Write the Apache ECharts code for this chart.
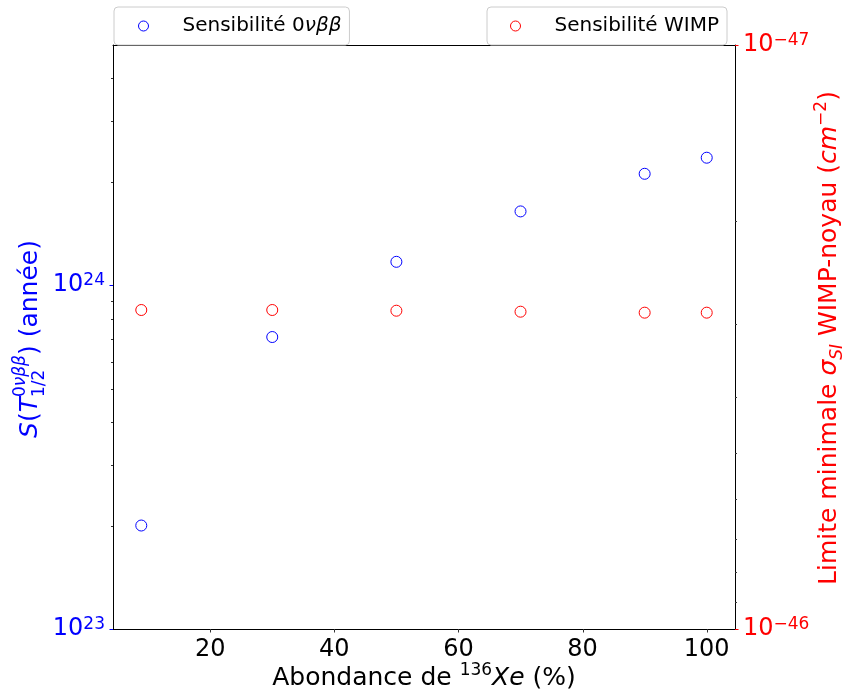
<!DOCTYPE html>
<html>
<head>
<meta charset="utf-8">
<script src="https://cdn.jsdelivr.net/npm/echarts@6/dist/echarts.min.js"></script>
<style>
  html, body { margin: 0; padding: 0; background: #fff; }
  #chart { width: 844px; height: 693px; }
</style>
</head>
<body>
<div id="chart"></div>
<script>
// abondance en 136Xe (%)
var abondance = [8.9, 30, 50, 70, 90, 100];
// sensibilité 0vbb (années)
var sensiBB = [2.0e23, 7.07e23, 1.17e24, 1.64e24, 2.11e24, 2.35e24];
// limite WIMP-noyau (cm-2)
var sensiWIMP = [2.843e-47, 2.843e-47, 2.851e-47, 2.862e-47, 2.873e-47, 2.873e-47];

var xTicks = [20, 40, 60, 80, 100];
var leftMajor = [1e23, 1e24];
var leftMinor = [2e23, 3e23, 4e23, 5e23, 6e23, 7e23, 8e23, 9e23, 2e24, 3e24, 4e24];
var rightMajor = [1e-47, 1e-46];
var rightMinor = [2e-47, 3e-47, 4e-47, 5e-47, 6e-47, 7e-47, 8e-47, 9e-47];

// l'échelle log d'ECharts arrondit les très petites valeurs : axe droit en unités de 1e-47
var WIMP_UNIT = 1e-47, WIMP_EXP = -47;

var FONT = '"DejaVu Sans"';
var BLUE = '#0000ff', RED = '#ff0000';
var HOLLOW = 'rgba(255,255,255,0)';

var chart = echarts.init(document.getElementById('chart'));

function expLabel(shift) {
  return function (v) {
    var l = Math.log10(v);
    var e = Math.round(l);
    if (Math.abs(l - e) > 1e-6) return '';
    e += shift;
    return '{b|10}{s|' + (e < 0 ? '\u2212' + (-e) : e) + '}';
  };
}

function expRich(color) {
  return {
    b: { fontFamily: FONT, fontSize: 24, color: color, lineHeight: 26 },
    s: { fontFamily: FONT, fontSize: 17, color: color, lineHeight: 17, verticalAlign: 'top' }
  };
}

chart.setOption({
  animation: false,
  grid: { left: 113, right: 109, top: 45, bottom: 64 },
  legend: [{
    data: ['Sensibilité 0νββ'],
    left: 114, top: 7,
    itemWidth: 10, itemHeight: 10,
    itemStyle: { borderWidth: 1 },
    padding: [9, 8, 9, 24],
    backgroundColor: '#fff', borderColor: '#cccccc', borderWidth: 1, borderRadius: 4,
    formatter: function () { return '{n|Sensibilité }{n|0}{i|νββ}'; },
    textStyle: {
      padding: [0, 0, 0, 29],
      rich: {
        n: { fontFamily: FONT, fontSize: 20, color: '#000' },
        i: { fontFamily: FONT, fontSize: 20, color: '#000', fontStyle: 'italic' }
      }
    }
  }, {
    data: ['Sensibilité WIMP'],
    left: 487, top: 7,
    itemWidth: 10, itemHeight: 10,
    itemStyle: { borderWidth: 1 },
    padding: [9, 8, 9, 23],
    backgroundColor: '#fff', borderColor: '#cccccc', borderWidth: 1, borderRadius: 4,
    textStyle: { fontFamily: FONT, fontSize: 20, color: '#000', padding: [0, 0, 0, 29] }
  }],
  xAxis: [{
    type: 'value', min: 4.345, max: 104.555,
    axisLine: { show: true, onZero: false, lineStyle: { color: '#000', width: 1 } },
    axisTick: { show: false },
    splitLine: { show: false },
    axisLabel: {
      margin: 9, color: '#000', fontFamily: FONT, fontSize: 24,
      formatter: function (v) { return xTicks.indexOf(v) >= 0 ? String(v) : ''; }
    }
  }, {
    type: 'value', position: 'top', min: 4.345, max: 104.555,
    axisLine: { show: true, onZero: false, lineStyle: { color: '#000', width: 1 } },
    axisTick: { show: false }, axisLabel: { show: false }, splitLine: { show: false }
  }],
  yAxis: [{
    type: 'log', logBase: 10, min: 1e23, max: 5e24, position: 'left',
    axisLine: { show: true, onZero: false, lineStyle: { color: '#000', width: 1 } },
    axisTick: { show: false },
    splitLine: { show: false },
    axisLabel: { margin: 8, formatter: expLabel(0), rich: expRich(BLUE) }
  }, {
    type: 'log', logBase: 10, min: 1, max: 10, inverse: true, position: 'right',
    axisLine: { show: true, onZero: false, lineStyle: { color: '#000', width: 1 } },
    axisTick: { show: false },
    splitLine: { show: false },
    axisLabel: { margin: 8, formatter: expLabel(WIMP_EXP), rich: expRich(RED) }
  }],
  series: [{
    name: 'Sensibilité 0νββ',
    type: 'scatter', xAxisIndex: 0, yAxisIndex: 0,
    symbol: 'circle', symbolSize: 11,
    itemStyle: { color: HOLLOW, borderColor: BLUE, borderWidth: 1, opacity: 1 },
    data: abondance.map(function (x, i) { return [x, sensiBB[i]]; })
  }, {
    name: 'Sensibilité WIMP',
    type: 'scatter', xAxisIndex: 0, yAxisIndex: 1,
    symbol: 'circle', symbolSize: 11,
    itemStyle: { color: HOLLOW, borderColor: RED, borderWidth: 1, opacity: 1 },
    data: abondance.map(function (x, i) { return [x, sensiWIMP[i] / WIMP_UNIT]; })
  }]
});

// petits traits de graduation (majeurs et mineurs), placés via les échelles
var ctx = document.createElement('canvas').getContext('2d');
var gfx = [];
function tick(x1, y1, x2, y2, color) {
  gfx.push({ type: 'line', silent: true, z: 10,
    shape: { x1: x1, y1: y1, x2: x2, y2: y2 },
    style: { stroke: color, lineWidth: 1 } });
}
var bottomPx = Math.round(chart.convertToPixel({ yAxisIndex: 0 }, 1e23));
var leftPx = Math.round(chart.convertToPixel({ xAxisIndex: 0 }, 4.345));
var rightPx = Math.round(chart.convertToPixel({ xAxisIndex: 0 }, 104.555));
xTicks.forEach(function (v) {
  var p = Math.round(chart.convertToPixel({ xAxisIndex: 0 }, v)) + 0.5;
  tick(p, bottomPx, p, bottomPx + 3.5, '#333');
});
leftMajor.forEach(function (v) {
  var p = Math.round(chart.convertToPixel({ yAxisIndex: 0 }, v)) + 0.5;
  tick(leftPx - 3.5, p, leftPx, p, BLUE);
});
leftMinor.forEach(function (v) {
  var p = Math.round(chart.convertToPixel({ yAxisIndex: 0 }, v)) + 0.5;
  tick(leftPx - 2, p, leftPx, p, '#333');
});
rightMajor.forEach(function (v) {
  var p = Math.round(chart.convertToPixel({ yAxisIndex: 1 }, v / WIMP_UNIT)) + 0.5;
  tick(rightPx, p, rightPx + 3.5, p, RED);
});
rightMinor.forEach(function (v) {
  var p = Math.round(chart.convertToPixel({ yAxisIndex: 1 }, v / WIMP_UNIT)) + 0.5;
  tick(rightPx, p, rightPx + 2, p, '#333');
});

// titres d'axes avec exposants / indices
function title(pieces, color, cx, cy, rot) {
  var x = 0, mark = 0, hi = 0, kids = [];
  pieces.forEach(function (p) {
    if (p.mark) { mark = x; return; }
    if (p.back) { hi = x; x = mark; return; }
    if (p.join) { x = Math.max(x, hi); return; }
    var sz = p.sz || 25;
    var font = (p.it ? 'italic ' : '') + sz + 'px ' + FONT;
    ctx.font = font;
    kids.push({ type: 'text', x: x, y: (p.dy || 0) - 0.33 * sz,
      style: { text: p.t, font: font, fill: color, align: 'left', verticalAlign: 'middle' } });
    x += ctx.measureText(p.t).width;
  });
  var half = x / 2;
  kids.forEach(function (k) { k.x -= half; });
  return { type: 'group', x: cx, y: cy, rotation: rot, children: kids, silent: true };
}

gfx.push(title([
  { t: 'Abondance de ' }, { t: '136', sz: 17, dy: -11 }, { t: 'Xe', it: true }, { t: ' (%)' }
], '#000', 424, 687, 0));

gfx.push(title([
  { t: 'S', it: true }, { t: '(' }, { t: 'T', it: true },
  { mark: true }, { t: '0', sz: 17, dy: -12 }, { t: 'νββ', sz: 17, dy: -12, it: true },
  { back: true }, { t: '1/2', sz: 17, dy: 7 }, { join: true },
  { t: ') (année)' }
], BLUE, 38.5, 339, Math.PI / 2));

gfx.push(title([
  { t: 'Limite minimale ' }, { t: 'σ', it: true }, { t: 'SI', it: true, sz: 17, dy: 5 },
  { t: ' WIMP-noyau (' }, { t: 'cm', it: true }, { t: '\u22122', sz: 17, dy: -11 }, { t: ')' }
], RED, 838, 338, Math.PI / 2));

chart.setOption({ graphic: gfx });
</script>
</body>
</html>
